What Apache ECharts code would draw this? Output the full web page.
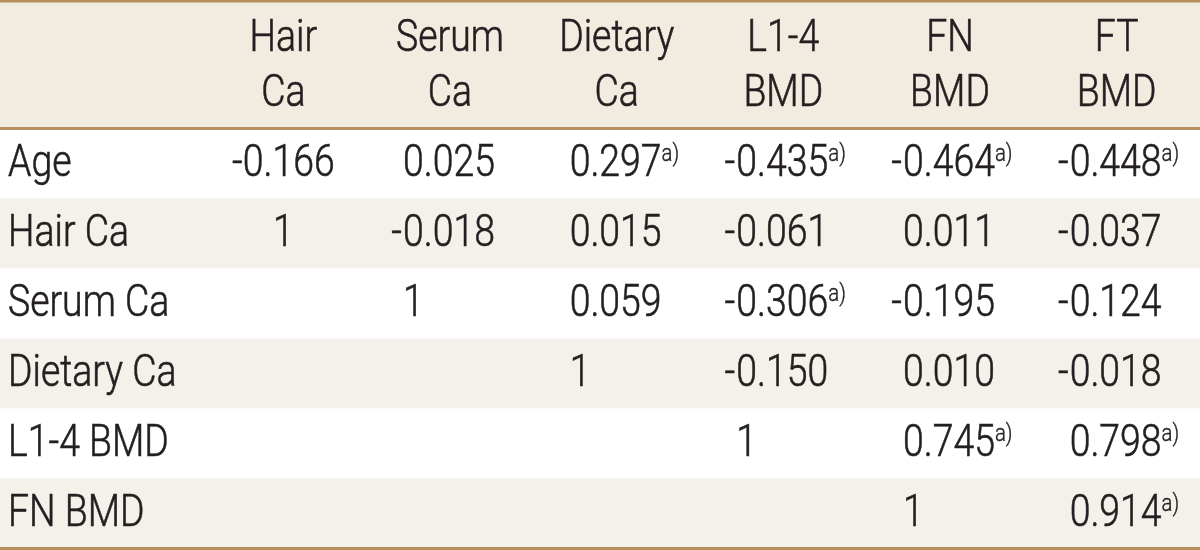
<!DOCTYPE html>
<html>
<head>
<meta charset="utf-8">
<script src="https://cdn.jsdelivr.net/npm/echarts@6/dist/echarts.min.js"></script>
<style>
html,body{margin:0;padding:0;background:#ffffff;}
#chart{width:1200px;height:550px;}
</style>
</head>
<body>
<div id="chart"></div>
<script>
// ---- data ----
const columnLabels = ['Hair\nCa', 'Serum\nCa', 'Dietary\nCa', 'L1-4\nBMD', 'FN\nBMD', 'FT\nBMD'];
const rowLabels = ['Age', 'Hair Ca', 'Serum Ca', 'Dietary Ca', 'L1-4 BMD', 'FN BMD'];

const rowAge       = [-0.166, 0.025, 0.297, -0.435, -0.464, -0.448];
const rowHairCa    = [1, -0.018, 0.015, -0.061, 0.011, -0.037];
const rowSerumCa   = [null, 1, 0.059, -0.306, -0.195, -0.124];
const rowDietaryCa = [null, null, 1, -0.150, 0.010, -0.018];
const rowL14BMD    = [null, null, null, 1, 0.745, 0.798];
const rowFNBMD     = [null, null, null, null, 1, 0.914];

// 1 = marked with superscript a)
const sigAge       = [0, 0, 1, 1, 1, 1];
const sigHairCa    = [0, 0, 0, 0, 0, 0];
const sigSerumCa   = [0, 0, 0, 1, 0, 0];
const sigDietaryCa = [0, 0, 0, 0, 0, 0];
const sigL14BMD    = [0, 0, 0, 0, 1, 1];
const sigFNBMD     = [0, 0, 0, 0, 0, 1];

const footnoteMark = 'a)';

// ---- build ----
const valueRows = [rowAge, rowHairCa, rowSerumCa, rowDietaryCa, rowL14BMD, rowFNBMD];
const sigRows = [sigAge, sigHairCa, sigSerumCa, sigDietaryCa, sigL14BMD, sigFNBMD];
const cells = [];
valueRows.forEach(function (r, ri) {
  r.forEach(function (v, ci) {
    if (v !== null) cells.push([ci, ri, v, sigRows[ri][ci]]);
  });
});
const headerData = columnLabels.map(function (l, i) { return [i, 0]; });
const rowLabelData = rowLabels.map(function (l, i) { return [0, i]; });

// ---- styles ----
const FONT = "Roboto,'Liberation Sans',sans-serif";
const WEIGHT = 300;
const INK = '#231f20';
const RULE = '#b78f5f';
const HEAD_BG = '#f2ebe0';
const BAND = '#f4f0ea';
const FS = 44;
const SX = 0.85;
const COL_ALIGN = ['center', 'decimal', 'decimal', 'decimal', 'decimal', 'decimal'];
const DEC_OFFSET = -47;

function txt(x, y, text, align, extra) {
  const style = { text: text, x: 0, y: 0, align: align, verticalAlign: 'middle',
                  fontSize: FS, fontFamily: FONT, fontWeight: WEIGHT, fill: INK,
                  stroke: INK, lineWidth: 0.6 };
  if (extra) Object.keys(extra).forEach(function (k) { style[k] = extra[k]; });
  return { type: 'text', x: x, y: y, scaleX: SX, style: style };
}

function renderCell(params, api) {
  const col = api.value(0), row = api.value(1), v = api.value(2), sig = api.value(3);
  const p = api.coord([col, row]);
  const body = (v === 1 ? '1' : Math.abs(v).toFixed(3));
  const sup = sig ? '{sup|' + footnoteMark + '}' : '';
  const rich = { sup: { fontSize: 24, fontFamily: FONT, fontWeight: WEIGHT, fill: INK,
                        stroke: INK, lineWidth: 0.4, verticalAlign: 'top' } };
  const children = [];
  if (COL_ALIGN[col] === 'center') {
    children.push(txt(p[0], p[1] + 1, (v < 0 ? '-' : '') + body + sup, 'center', { rich: rich }));
  } else {
    const ax = p[0] + DEC_OFFSET;
    if (v < 0) children.push(txt(ax - 1, p[1] + 1, '-', 'right'));
    children.push(txt(ax, p[1] + 1, body + sup, 'left', { rich: rich }));
  }
  return { type: 'group', children: children };
}

function renderHeader(params, api) {
  const i = api.value(0);
  const p = api.coord([i, 0]);
  const y = params.coordSys.y - 61;
  return txt(p[0], y, columnLabels[i], 'center', { lineHeight: 55 });
}

function renderRowLabel(params, api) {
  const i = api.value(1);
  const p = api.coord([0, i]);
  return txt(p[0] + 8, p[1] + 1, rowLabels[i], 'left');
}

const chart = echarts.init(document.getElementById('chart'), null, { renderer: 'canvas' });
chart.setOption({
  backgroundColor: '#ffffff',
  animation: false,
  graphic: [
    { type: 'rect', z: -5, shape: { x: 0, y: 0, width: 1200, height: 129 }, style: { fill: HEAD_BG } },
    { type: 'rect', z: 10, shape: { x: 0, y: 0, width: 1200, height: 2.5 }, style: { fill: RULE } }
  ],
  grid: [
    { left: 0, right: 0, top: 128.5, bottom: 1.5 },
    { left: 200, right: 0, top: 128.5, bottom: 1.5 }
  ],
  xAxis: [
    { type: 'value', gridIndex: 0, position: 'top', min: 0, max: 1,
      axisLine: { show: true, onZero: false, lineStyle: { color: RULE, width: 3 } },
      axisTick: { show: false }, axisLabel: { show: false }, splitLine: { show: false }, z: 5 },
    { type: 'value', gridIndex: 0, position: 'bottom', min: 0, max: 1,
      axisLine: { show: true, onZero: false, lineStyle: { color: RULE, width: 3 } },
      axisTick: { show: false }, axisLabel: { show: false }, splitLine: { show: false }, z: 5 },
    { type: 'category', gridIndex: 1, position: 'top', data: columnLabels,
      axisLine: { show: false }, axisTick: { show: false }, splitLine: { show: false },
      axisLabel: { show: false } }
  ],
  yAxis: [
    { type: 'category', gridIndex: 0, inverse: true, data: rowLabels,
      axisLine: { show: false }, axisTick: { show: false }, splitLine: { show: false },
      splitArea: { show: true, areaStyle: { color: ['#ffffff', BAND] } },
      axisLabel: { show: false } },
    { type: 'category', gridIndex: 1, inverse: true, data: rowLabels, show: false }
  ],
  series: [
    { type: 'custom', xAxisIndex: 2, yAxisIndex: 1, data: cells, renderItem: renderCell, silent: true, clip: false },
    { type: 'custom', xAxisIndex: 2, yAxisIndex: 1, data: headerData, renderItem: renderHeader, silent: true, clip: false },
    { type: 'custom', xAxisIndex: 0, yAxisIndex: 0, data: rowLabelData, renderItem: renderRowLabel, silent: true, clip: false }
  ]
});
</script>
</body>
</html>
